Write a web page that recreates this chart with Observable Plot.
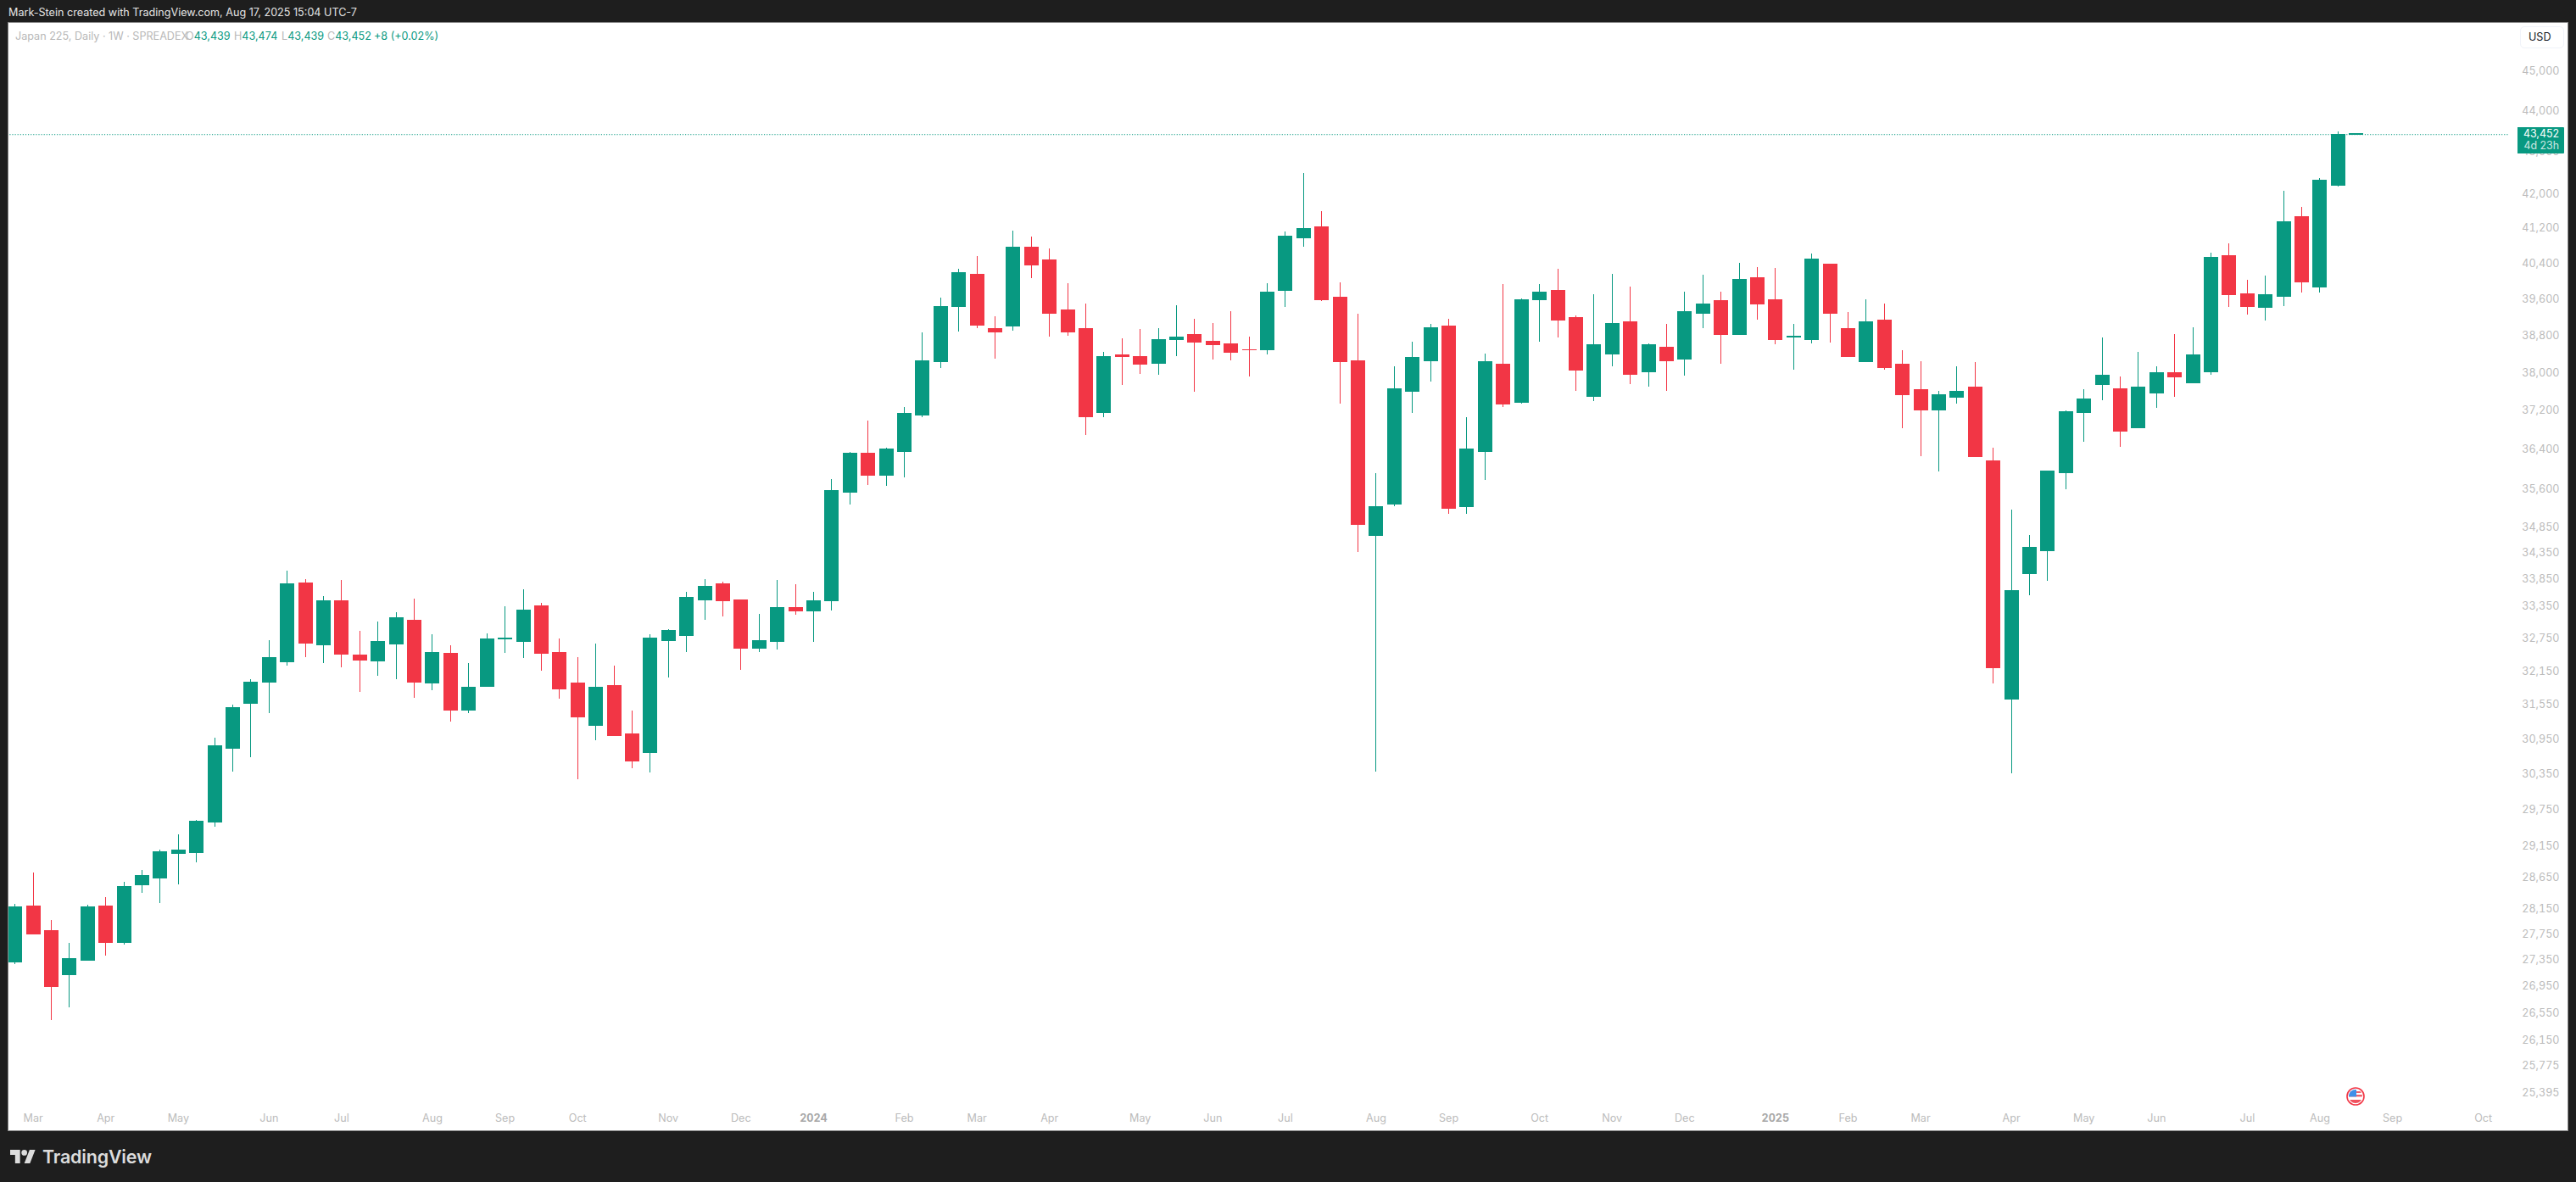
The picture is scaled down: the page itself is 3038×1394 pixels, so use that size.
<!DOCTYPE html>
<html>
<head>
<meta charset="utf-8">
<script src="https://cdn.jsdelivr.net/npm/d3@7"></script>
<script src="https://cdn.jsdelivr.net/npm/@observablehq/plot@0.6"></script>
<style>
html,body{margin:0;padding:0;background:#1e1e1e;width:3038px;height:1394px;overflow:hidden;font-family:Inter,"Noto Sans",sans-serif;}
#panel{position:absolute;left:9px;top:26px;width:3018px;height:1306px;background:#fff;border:1px solid #8a8a8a;}
#chart{position:absolute;left:0;top:0;}
#credit{position:absolute;left:10px;top:7px;font-size:12.6px;line-height:16px;color:#e4e4e4;white-space:nowrap;}
#legend{position:absolute;left:18px;top:35px;font-size:12.6px;line-height:16px;color:#b8b8b8;white-space:nowrap;}
#legend span{position:absolute;top:0;}
#legend i{font-style:normal;color:#089981;}
#usd{position:absolute;left:2972px;top:31px;width:52px;height:26px;box-sizing:border-box;border:1px solid #f0f3fa;border-radius:5px;background:#fff;color:#131722;font-size:12.6px;line-height:24px;padding-left:9px;}
#price{position:absolute;left:2969px;top:150px;width:55px;height:31px;background:#089981;border-radius:0 1px 1px 0;color:#fff;font-size:12.4px;text-align:right;box-sizing:border-box;padding-right:6px;line-height:14px;padding-top:1px;}
#price div+div{opacity:.78;}
#brand{position:absolute;left:12px;top:1355px;display:flex;align-items:center;color:#dcdcdc;}
#brand b{font-size:21.5px;font-weight:600;margin-left:8px;line-height:18px;letter-spacing:-.2px;}
#flag{position:absolute;left:2767px;top:1282px;}
</style>
</head>
<body>
<div id="panel"></div>
<div id="chart"></div>
<div id="credit">Mark-Stein created with TradingView.com, Aug 17, 2025 15:04 UTC-7</div>
<div id="legend">Japan 225, Daily · 1W · SPREADEX<span style="left:201px">O<i>43,439</i></span><span style="left:258px">H<i>43,474</i></span><span style="left:314px">L<i>43,439</i></span><span style="left:368px">C<i>43,452</i></span><span style="left:423px"><i>+8 (+0.02%)</i></span></div>
<div id="usd">USD</div>
<div id="price"><div>43,452</div><div>4d 23h</div></div>
<svg id="flag" width="22" height="22" viewBox="0 0 22 22">
  <defs><clipPath id="fc"><circle cx="11" cy="11" r="8"/></clipPath></defs>
  <circle cx="11" cy="11" r="10" fill="#fff" stroke="#f23645" stroke-width="1.6"/>
  <g clip-path="url(#fc)">
    <rect x="2" y="3" width="18" height="16" fill="#fff"/>
    <rect x="2" y="5" width="18" height="2" fill="#f0616d"/>
    <rect x="2" y="9" width="18" height="2.4" fill="#f0616d"/>
    <rect x="2" y="15" width="18" height="4" fill="#f0515e"/>
    <rect x="2" y="3" width="10" height="8.4" fill="#3f8fe8"/>
  </g>
</svg>
<div id="brand">
  <svg width="30" height="16" viewBox="0 0 36 19"><path fill="#dcdcdc" d="M14 19H7V7H0V0h14v19zM28 19h-8l7.5-19h8L28 19z"/><circle cx="20" cy="4" r="4" fill="#dcdcdc"/></svg>
  <b>TradingView</b>
</div>
<script>
const firstWeek = new Date("2023-02-27");
const lastWeek = new Date("2025-08-19");
const weeks = d3.utcMonday.range(firstWeek, lastWeek);

const openPrice = [
27320,28190,27805,27125,27345,28190,27610,28525,28635,29030,
29035,29535,30780,31575,31955,32310,33765,32630,33445,32430,
32325,32645,33080,31940,32475,31455,31865,32725,32690,33350,
32490,31940,31190,31880,31030,30720,32705,32800,33460,33750,
33460,32555,32690,33305,33240,33445,35540,36310,35865,36360,
37110,38235,39420,40140,38935,38990,40750,40460,39360,38935,
37160,38365,38345,38200,38695,38820,38675,38620,38490,38490,
39775,40965,41235,39640,38255,34675,35305,37605,38255,38990,
35255,36345,38165,37360,39570,39775,39175,37500,38400,39100,
38020,38545,38275,39285,39550,38820,40075,39585,38765,38710,
40365,38935,38235,39120,38180,37640,37215,37465,37695,36170,
31640,33955,34395,35915,37160,37750,37660,36845,37570,37985,
37785,38020,40575,39715,39400,39660,41470,39850,42205,43439];
const highPrice = [
28220,28720,27965,27610,28205,28325,28570,28760,29085,29335,
29575,30970,31545,32000,32705,34010,33845,33525,33830,32880,
33050,33225,33475,32815,32615,32290,32830,33335,33650,33400,
32740,32400,32645,32245,31440,32815,32910,33605,33845,33795,
33460,33195,33830,33750,33605,35795,36345,36985,36430,37270,
38860,39625,40270,40555,39210,41140,41005,40730,39945,39490,
38435,38730,38935,38950,39455,39155,39060,39325,38765,39945,
41120,42490,41590,39965,39270,35915,38125,38655,39045,39155,
37055,38400,39925,39605,39925,40270,39230,39700,40155,39870,
38620,39045,39755,40140,39755,40405,40310,40290,39045,40615,
40365,39305,39585,39490,38475,38235,37605,38125,38220,36430,
35190,34690,35965,37200,37640,38750,37910,38435,38125,38820,
38970,40630,40845,40020,40115,42070,41690,42365,43485,43474];
const lowPrice = [
27280,27740,26440,26630,27345,27410,27580,28390,28230,28525,
28880,29465,30385,30630,31400,32245,32400,32290,32215,31775,
32060,32000,31670,31805,31250,31400,31865,32475,32385,32155,
31655,30255,30925,31000,30445,30375,32030,32490,33080,33145,
32170,32490,32540,33175,32675,33255,35290,35675,35660,35830,
37055,38090,38880,38950,38290,38895,40055,38765,38785,36690,
37055,37730,37965,37950,38345,37590,38275,38255,37910,38380,
39420,40770,39550,37340,34365,30385,35255,37145,37805,35105,
35105,35780,37270,37340,38655,38750,37605,37390,38125,37750,
37695,37605,37930,38950,38180,38820,39135,38600,38055,38620,
38640,38325,38235,38055,36830,36255,35950,37340,36240,31925,
30360,33540,33810,35590,36550,37410,36445,36830,37250,37480,
37785,37950,39420,39250,39120,39435,39735,39735,42165,43439];
const closePrice = [
28175,27740,26935,27370,28175,27620,28500,28665,29060,29085,
29550,30825,31490,31955,32385,33750,32660,33430,32445,32340,
32690,33115,31955,32490,31455,31850,32725,32740,33270,32475,
31820,31325,31850,31000,30575,32740,32880,33495,33715,33445,
32555,32705,33305,33255,33430,35560,36310,35865,36410,37145,
38255,39435,40175,39010,38860,40750,40345,39270,38860,37075,
38345,38345,38165,38695,38765,38655,38600,38435,38475,39755,
41005,41180,39585,38220,34905,35255,37660,38325,38970,35220,
36410,38235,37325,39570,39755,39120,38055,38600,39045,37965,
38600,38255,39305,39475,38820,40035,39490,38710,38785,40480,
39270,38345,39100,38110,37535,37200,37535,37590,36255,32200,
33635,34460,35965,37180,37445,37930,36775,37680,37985,37910,
38365,40520,39680,39435,39680,41335,39965,42325,43425,43452];

const priceTicks = [25395,25775,26150,26550,26950,27350,27750,28150,28650,29150,29750,30350,30950,31550,32150,32750,33350,33850,34350,34850,35600,36400,37200,38000,38800,39600,40400,41200,42000,43000,44000,45000];
const monthTicks = ["2023-03-06","2023-04-03","2023-05-01","2023-06-05","2023-07-03","2023-08-07","2023-09-04","2023-10-02","2023-11-06","2023-12-04","2024-02-05","2024-03-04","2024-04-01","2024-05-06","2024-06-03","2024-07-01","2024-08-05","2024-09-02","2024-10-07","2024-11-04","2024-12-02","2025-02-03","2025-03-03","2025-04-07","2025-05-05","2025-06-02","2025-07-07","2025-08-04","2025-09-01","2025-10-06"].map(d => new Date(d));
const yearTicks = ["2024-01-01","2025-01-06"].map(d => new Date(d));
const lastClose = 43452;

const UP = "#089981", DOWN = "#F23645", AXIS = "#bcbcbc";

const bars = weeks.map((date, i) => ({
  date, open: openPrice[i], high: highPrice[i], low: lowPrice[i], close: closePrice[i]
}));
const past = bars.slice(0, -1), current = bars.slice(-1);
const colour = d => d.close >= d.open ? UP : DOWN;
const bodyTop = d => Math.max(d.open, d.close), bodyBottom = d => Math.min(d.open, d.close);

const wick = (data, dy) => Plot.ruleX(data, {x: "date", y1: "high", y2: "low", stroke: colour, strokeWidth: 1, dy, clip: true, shapeRendering: "crispEdges"});
const body = (data, dy) => Plot.ruleX(data, {x: "date", y1: bodyTop, y2: bodyBottom, stroke: colour, strokeWidth: 17, insetTop: -0.5, insetBottom: -0.5, dy, clip: true, shapeRendering: "crispEdges"});

const chart = Plot.plot({
  width: 3038, height: 1394,
  marginLeft: 10, marginRight: 20, marginTop: 27, marginBottom: 83,
  style: {background: "transparent", fontFamily: "Inter", fontSize: "12.6px"},
  x: {type: "utc", domain: [firstWeek, new Date("2025-10-06")], range: [17.2, 2928.1]},
  y: {type: "log", domain: [25395, 45000], range: [1288, 83]},
  marks: [
    Plot.ruleY([lastClose], {x1: new Date("2023-02-20"), x2: new Date("2025-10-16"), stroke: UP, strokeWidth: 1, strokeDasharray: "1.2 1.9", dy: 1.5, clip: true}),
    wick(past, 0), body(past, 0),
    wick(current, 1), body(current, 1),
    Plot.axisX(monthTicks, {anchor: "bottom", tickSize: 0, tickPadding: 3, tickFormat: d3.utcFormat("%b"), fill: AXIS, label: null}),
    Plot.axisX(yearTicks, {anchor: "bottom", tickSize: 0, tickPadding: 3, tickFormat: d3.utcFormat("%Y"), fill: "#a8a8a8", fontWeight: 700, label: null}),
    Plot.axisY(priceTicks, {anchor: "right", tickSize: 0, tickPadding: 0, textAnchor: "end", tickFormat: d3.format(","), fill: AXIS, label: null})
  ]
});
document.getElementById("chart").appendChild(chart);
</script>
</body>
</html>
